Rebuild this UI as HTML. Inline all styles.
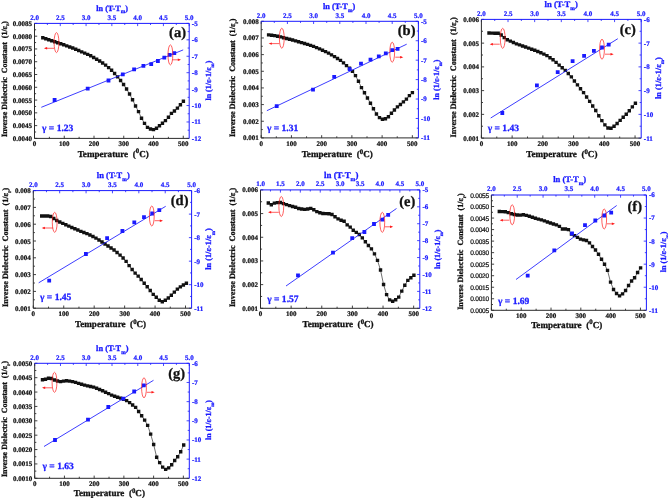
<!DOCTYPE html>
<html><head><meta charset="utf-8"><title>Inverse dielectric constant vs temperature</title>
<style>
html,body{margin:0;padding:0;background:#fff;}
body{width:668px;height:498px;overflow:hidden;}
svg{display:block;filter:blur(0.35px);text-rendering:geometricPrecision;}
.t{stroke-width:0.22px;stroke-linejoin:round;}
.u{stroke-width:0.3px;stroke-linejoin:round;}
</style></head><body>
<svg width="668" height="498" viewBox="0 0 668 498">
<rect width="668" height="498" fill="#fff"/>
<g id="pa">
<path d="M34.5 138.4V135.7M49.38 138.4V136.8M64.25 138.4V135.7M79.12 138.4V136.8M94 138.4V135.7M108.88 138.4V136.8M123.75 138.4V135.7M138.62 138.4V136.8M153.5 138.4V135.7M168.38 138.4V136.8M183.25 138.4V135.7M34.5 138.4H37.2M34.5 132.01H36.1M34.5 125.62H37.2M34.5 119.23H36.1M34.5 112.84H37.2M34.5 106.46H36.1M34.5 100.07H37.2M34.5 93.68H36.1M34.5 87.29H37.2M34.5 80.9H36.1M34.5 74.51H37.2M34.5 68.12H36.1M34.5 61.73H37.2M34.5 55.34H36.1M34.5 48.96H37.2M34.5 42.57H36.1M34.5 36.18H37.2M34.5 29.79H36.1M34.5 23.4H37.2" stroke="#111" stroke-width="0.8" fill="none"/>
<path d="M34.5 23.4V26.1M47.39 23.4V25M60.28 23.4V26.1M73.17 23.4V25M86.07 23.4V26.1M98.96 23.4V25M111.85 23.4V26.1M124.74 23.4V25M137.63 23.4V26.1M150.52 23.4V25M163.42 23.4V26.1M176.31 23.4V25M189.2 23.4V26.1M189.2 138.4H186.5M189.2 130.19H187.6M189.2 121.97H186.5M189.2 113.76H187.6M189.2 105.54H186.5M189.2 97.33H187.6M189.2 89.11H186.5M189.2 80.9H187.6M189.2 72.69H186.5M189.2 64.47H187.6M189.2 56.26H186.5M189.2 48.04H187.6M189.2 39.83H186.5M189.2 31.61H187.6M189.2 23.4H186.5" stroke="#1a1aff" stroke-width="0.8" fill="none"/>
<path d="M34.5 23.4V138.4H189.2" stroke="#2b2b2b" stroke-width="1" fill="none"/>
<path d="M34.5 23.4H189.2V138.4" stroke="#1a1aff" stroke-width="1" fill="none"/>
<g font-family='"Liberation Serif", serif' font-weight="bold" font-size="7.0" text-anchor="middle" fill="#111" stroke="#111" class="t">
<text x="34.5" y="146">0</text>
<text x="64.25" y="146">100</text>
<text x="94" y="146">200</text>
<text x="123.75" y="146">300</text>
<text x="153.5" y="146">400</text>
<text x="183.25" y="146">500</text>
</g>
<g font-family='"Liberation Serif", serif' font-weight="bold" font-size="7.0" text-anchor="end" fill="#111" stroke="#111" class="t">
<text x="32" y="140.9">0.0040</text>
<text x="32" y="128.12">0.0045</text>
<text x="32" y="115.34">0.0050</text>
<text x="32" y="102.57">0.0055</text>
<text x="32" y="89.79">0.0060</text>
<text x="32" y="77.01">0.0065</text>
<text x="32" y="64.23">0.0070</text>
<text x="32" y="51.46">0.0075</text>
<text x="32" y="38.68">0.0080</text>
<text x="32" y="25.9">0.0085</text>
</g>
<g font-family='"Liberation Serif", serif' font-weight="bold" font-size="7.0" text-anchor="middle" fill="#1a1aff" stroke="#1a1aff" class="t">
<text x="34.5" y="19.8">2.0</text>
<text x="60.28" y="19.8">2.5</text>
<text x="86.07" y="19.8">3.0</text>
<text x="111.85" y="19.8">3.5</text>
<text x="137.63" y="19.8">4.0</text>
<text x="163.42" y="19.8">4.5</text>
<text x="189.2" y="19.8">5.0</text>
</g>
<g font-family='"Liberation Serif", serif' font-weight="bold" font-size="7.0" text-anchor="start" fill="#1a1aff" stroke="#1a1aff" class="t">
<text x="191.8" y="140.8">-12</text>
<text x="191.8" y="124.37">-11</text>
<text x="191.8" y="107.94">-10</text>
<text x="191.8" y="91.51">-9</text>
<text x="191.8" y="75.09">-8</text>
<text x="191.8" y="58.66">-7</text>
<text x="191.8" y="42.23">-6</text>
<text x="191.8" y="25.8">-5</text>
</g>
<text x="113.2" y="156.8" font-family='"Liberation Serif", serif' font-weight="bold" font-size="9.1" text-anchor="middle" fill="#111" stroke="#111" class="u">Temperature&#160;&#160;(<tspan font-size="6.8" dy="-3.4">0</tspan><tspan dy="3.4">C)</tspan></text>
<text x="112.1" y="10.5" font-family='"Liberation Serif", serif' font-weight="bold" font-size="8.2" text-anchor="middle" fill="#1a1aff" stroke="#1a1aff" class="u">ln (T-T<tspan font-size="5.33" dy="2.95">m</tspan><tspan dy="-2.95">)</tspan></text>
<text transform="translate(6.63 79) rotate(-90)" font-family='"Liberation Serif", serif' font-weight="bold" font-size="7.96" text-anchor="middle" fill="#111" stroke="#111" class="u">Inverse Dielectric&#160; Constant&#160; (1/&#949;<tspan font-size="5.17" dy="2.39">r</tspan><tspan dy="-2.39">)</tspan></text>
<text transform="translate(210.52 80.6) rotate(-90)" font-family='"Liberation Serif", serif' font-weight="bold" font-size="7.94" text-anchor="middle" fill="#1a1aff" stroke="#1a1aff" class="u">ln (1/&#949;-1/&#949;<tspan font-size="4.92" dy="3.18">m</tspan><tspan dy="-3.18">)</tspan></text>
<polyline points="42.8,37.8 45.79,38.8 48.78,39.79 51.77,40.79 54.77,41.79 57.76,42.79 60.75,43.8 63.74,44.81 66.73,45.87 69.72,46.94 72.71,48.01 75.71,49.29 78.7,50.57 81.69,51.85 84.68,53.09 87.67,54.34 90.66,55.77 93.66,57.47 96.65,59.18 99.64,61.06 102.63,63.05 105.62,65.14 108.61,67.67 111.6,70.2 114.6,73.44 117.59,76.91 120.58,80.47 123.57,84.52 126.56,88.94 129.55,94.02 132.54,99.69 135.54,105.97 138.53,111.67 141.52,118.22 144.51,123.35 147.5,127.4 150.49,129.04 153.49,129.6 156.48,128.24 159.47,125.73 162.46,123.22 165.45,120.64 168.44,117.27 171.43,113.37 174.43,110.96 177.42,108.08 180.41,104.8 183.4,101.3" stroke="#111" stroke-width="0.6" fill="none"/>
<path d="M41.1 36.1h3.4v3.4h-3.4zM44.09 37.1h3.4v3.4h-3.4zM47.08 38.09h3.4v3.4h-3.4zM50.07 39.09h3.4v3.4h-3.4zM53.07 40.09h3.4v3.4h-3.4zM56.06 41.09h3.4v3.4h-3.4zM59.05 42.1h3.4v3.4h-3.4zM62.04 43.11h3.4v3.4h-3.4zM65.03 44.17h3.4v3.4h-3.4zM68.02 45.24h3.4v3.4h-3.4zM71.01 46.31h3.4v3.4h-3.4zM74.01 47.59h3.4v3.4h-3.4zM77 48.87h3.4v3.4h-3.4zM79.99 50.15h3.4v3.4h-3.4zM82.98 51.39h3.4v3.4h-3.4zM85.97 52.64h3.4v3.4h-3.4zM88.96 54.07h3.4v3.4h-3.4zM91.96 55.77h3.4v3.4h-3.4zM94.95 57.48h3.4v3.4h-3.4zM97.94 59.36h3.4v3.4h-3.4zM100.93 61.35h3.4v3.4h-3.4zM103.92 63.44h3.4v3.4h-3.4zM106.91 65.97h3.4v3.4h-3.4zM109.9 68.5h3.4v3.4h-3.4zM112.9 71.74h3.4v3.4h-3.4zM115.89 75.21h3.4v3.4h-3.4zM118.88 78.77h3.4v3.4h-3.4zM121.87 82.82h3.4v3.4h-3.4zM124.86 87.24h3.4v3.4h-3.4zM127.85 92.32h3.4v3.4h-3.4zM130.84 97.99h3.4v3.4h-3.4zM133.84 104.27h3.4v3.4h-3.4zM136.83 109.97h3.4v3.4h-3.4zM139.82 116.52h3.4v3.4h-3.4zM142.81 121.65h3.4v3.4h-3.4zM145.8 125.7h3.4v3.4h-3.4zM148.79 127.34h3.4v3.4h-3.4zM151.79 127.9h3.4v3.4h-3.4zM154.78 126.54h3.4v3.4h-3.4zM157.77 124.03h3.4v3.4h-3.4zM160.76 121.52h3.4v3.4h-3.4zM163.75 118.94h3.4v3.4h-3.4zM166.74 115.57h3.4v3.4h-3.4zM169.73 111.67h3.4v3.4h-3.4zM172.73 109.26h3.4v3.4h-3.4zM175.72 106.38h3.4v3.4h-3.4zM178.71 103.1h3.4v3.4h-3.4zM181.7 99.6h3.4v3.4h-3.4z" fill="#111"/>
<path d="M41.3 107.3L183.2 49.9" stroke="#1a1aff" stroke-width="0.85"/>
<path d="M52.7 98.1h3.8v3.8h-3.8zM85.8 86.8h3.8v3.8h-3.8zM106.6 78.6h3.8v3.8h-3.8zM120.9 72.4h3.8v3.8h-3.8zM132.2 67.5h3.8v3.8h-3.8zM141.5 64h3.8v3.8h-3.8zM149.3 62.2h3.8v3.8h-3.8zM156 59.1h3.8v3.8h-3.8zM162.4 55.8h3.8v3.8h-3.8zM167.8 53h3.8v3.8h-3.8zM172.4 51.2h3.8v3.8h-3.8z" fill="#1a1aff"/>
<ellipse cx="56.5" cy="42.6" rx="2.4" ry="10" stroke="#ff1a1a" stroke-width="0.7" fill="none"/>
<path d="M54 48.3H45.4" stroke="#ff1a1a" stroke-width="0.7"/>
<path d="M43.9 48.3L47.1 47.1L47.1 49.5z" fill="#ff1a1a"/>
<ellipse cx="170.4" cy="54.9" rx="2.4" ry="10" stroke="#ff1a1a" stroke-width="0.7" fill="none"/>
<path d="M172.5 59.8H179.5" stroke="#ff1a1a" stroke-width="0.7"/>
<path d="M181 59.8L177.8 58.6L177.8 61z" fill="#ff1a1a"/>
<text x="186" y="37" font-family='"Liberation Serif", serif' font-weight="bold" font-size="14.5" text-anchor="end" fill="#111" stroke="#111" class="u">(a)</text>
<text x="42" y="131.2" font-family='"Liberation Serif", serif' font-weight="bold" font-size="9.55" fill="#1a1aff" stroke="#1a1aff" class="u">&#947; = 1.23</text>
</g>
<g id="pb">
<path d="M261.2 137.9V135.2M276.32 137.9V136.3M291.43 137.9V135.2M306.55 137.9V136.3M321.66 137.9V135.2M336.78 137.9V136.3M351.89 137.9V135.2M367.01 137.9V136.3M382.12 137.9V135.2M397.24 137.9V136.3M412.35 137.9V135.2M261.2 137.9H263.9M261.2 129.57H262.8M261.2 121.24H263.9M261.2 112.91H262.8M261.2 104.59H263.9M261.2 96.26H262.8M261.2 87.93H263.9M261.2 79.6H262.8M261.2 71.27H263.9M261.2 62.94H262.8M261.2 54.61H263.9M261.2 46.29H262.8M261.2 37.96H263.9M261.2 29.63H262.8M261.2 21.3H263.9" stroke="#111" stroke-width="0.8" fill="none"/>
<path d="M261.2 21.3V24M274.3 21.3V22.9M287.4 21.3V24M300.5 21.3V22.9M313.6 21.3V24M326.7 21.3V22.9M339.8 21.3V24M352.9 21.3V22.9M366 21.3V24M379.1 21.3V22.9M392.2 21.3V24M405.3 21.3V22.9M418.4 21.3V24M418.4 137.9H415.7M418.4 128.18H416.8M418.4 118.47H415.7M418.4 108.75H416.8M418.4 99.03H415.7M418.4 89.32H416.8M418.4 79.6H415.7M418.4 69.88H416.8M418.4 60.17H415.7M418.4 50.45H416.8M418.4 40.73H415.7M418.4 31.02H416.8M418.4 21.3H415.7" stroke="#1a1aff" stroke-width="0.8" fill="none"/>
<path d="M261.2 21.3V137.9H418.4" stroke="#2b2b2b" stroke-width="1" fill="none"/>
<path d="M261.2 21.3H418.4V137.9" stroke="#1a1aff" stroke-width="1" fill="none"/>
<g font-family='"Liberation Serif", serif' font-weight="bold" font-size="7.0" text-anchor="middle" fill="#111" stroke="#111" class="t">
<text x="261.2" y="145.5">0</text>
<text x="291.43" y="145.5">100</text>
<text x="321.66" y="145.5">200</text>
<text x="351.89" y="145.5">300</text>
<text x="382.12" y="145.5">400</text>
<text x="412.35" y="145.5">500</text>
</g>
<g font-family='"Liberation Serif", serif' font-weight="bold" font-size="7.0" text-anchor="end" fill="#111" stroke="#111" class="t">
<text x="258.7" y="140.4">0.001</text>
<text x="258.7" y="123.74">0.002</text>
<text x="258.7" y="107.09">0.003</text>
<text x="258.7" y="90.43">0.004</text>
<text x="258.7" y="73.77">0.005</text>
<text x="258.7" y="57.11">0.006</text>
<text x="258.7" y="40.46">0.007</text>
<text x="258.7" y="23.8">0.008</text>
</g>
<g font-family='"Liberation Serif", serif' font-weight="bold" font-size="7.0" text-anchor="middle" fill="#1a1aff" stroke="#1a1aff" class="t">
<text x="261.2" y="17.7">2.0</text>
<text x="287.4" y="17.7">2.5</text>
<text x="313.6" y="17.7">3.0</text>
<text x="339.8" y="17.7">3.5</text>
<text x="366" y="17.7">4.0</text>
<text x="392.2" y="17.7">4.5</text>
<text x="418.4" y="17.7">5.0</text>
</g>
<g font-family='"Liberation Serif", serif' font-weight="bold" font-size="7.0" text-anchor="start" fill="#1a1aff" stroke="#1a1aff" class="t">
<text x="421" y="140.3">-11</text>
<text x="421" y="120.87">-10</text>
<text x="421" y="101.43">-9</text>
<text x="421" y="82">-8</text>
<text x="421" y="62.57">-7</text>
<text x="421" y="43.13">-6</text>
<text x="421" y="23.7">-5</text>
</g>
<text x="337.2" y="157.2" font-family='"Liberation Serif", serif' font-weight="bold" font-size="9.1" text-anchor="middle" fill="#111" stroke="#111" class="u">Temperature&#160;&#160;(<tspan font-size="6.8" dy="-3.4">0</tspan><tspan dy="3.4">C)</tspan></text>
<text x="339.1" y="9.4" font-family='"Liberation Serif", serif' font-weight="bold" font-size="8.3" text-anchor="middle" fill="#1a1aff" stroke="#1a1aff" class="u">ln (T-T<tspan font-size="5.4" dy="2.99">m</tspan><tspan dy="-2.99">)</tspan></text>
<text transform="translate(235.08 77.8) rotate(-90)" font-family='"Liberation Serif", serif' font-weight="bold" font-size="8.13" text-anchor="middle" fill="#111" stroke="#111" class="u">Inverse Dielectric&#160; Constant&#160; (1/&#949;<tspan font-size="5.28" dy="2.44">r</tspan><tspan dy="-2.44">)</tspan></text>
<text transform="translate(438.84 79.6) rotate(-90)" font-family='"Liberation Serif", serif' font-weight="bold" font-size="8" text-anchor="middle" fill="#1a1aff" stroke="#1a1aff" class="u">ln (1/&#949;-1/&#949;<tspan font-size="4.96" dy="3.2">m</tspan><tspan dy="-3.2">)</tspan></text>
<polyline points="268.6,34.9 271.6,35.21 274.59,35.64 277.59,36.24 280.58,36.92 283.58,37.71 286.58,38.5 289.57,39.26 292.57,40.02 295.56,40.89 298.56,41.77 301.55,42.64 304.55,43.51 307.55,44.42 310.54,45.41 313.54,46.41 316.53,47.61 319.53,48.86 322.52,50.2 325.52,51.65 328.52,53.11 331.51,54.86 334.51,56.6 337.5,58.45 340.5,60.35 343.5,62.84 346.49,65.62 349.49,68.19 352.48,71.4 355.48,75.62 358.48,81.28 361.47,87.6 364.47,92.76 367.46,97.95 370.46,103.21 373.45,108.73 376.45,114.02 379.45,117.61 382.44,119.32 385.44,118.74 388.43,116.69 391.43,113.24 394.42,110.05 397.42,106.83 400.42,104.5 403.41,101.89 406.41,99.08 409.4,95.61 412.4,92.6" stroke="#111" stroke-width="0.6" fill="none"/>
<path d="M266.9 33.2h3.4v3.4h-3.4zM269.9 33.51h3.4v3.4h-3.4zM272.89 33.94h3.4v3.4h-3.4zM275.89 34.54h3.4v3.4h-3.4zM278.88 35.22h3.4v3.4h-3.4zM281.88 36.01h3.4v3.4h-3.4zM284.88 36.8h3.4v3.4h-3.4zM287.87 37.56h3.4v3.4h-3.4zM290.87 38.32h3.4v3.4h-3.4zM293.86 39.19h3.4v3.4h-3.4zM296.86 40.07h3.4v3.4h-3.4zM299.85 40.94h3.4v3.4h-3.4zM302.85 41.81h3.4v3.4h-3.4zM305.85 42.72h3.4v3.4h-3.4zM308.84 43.71h3.4v3.4h-3.4zM311.84 44.71h3.4v3.4h-3.4zM314.83 45.91h3.4v3.4h-3.4zM317.83 47.16h3.4v3.4h-3.4zM320.82 48.5h3.4v3.4h-3.4zM323.82 49.95h3.4v3.4h-3.4zM326.82 51.41h3.4v3.4h-3.4zM329.81 53.16h3.4v3.4h-3.4zM332.81 54.9h3.4v3.4h-3.4zM335.8 56.75h3.4v3.4h-3.4zM338.8 58.65h3.4v3.4h-3.4zM341.8 61.14h3.4v3.4h-3.4zM344.79 63.92h3.4v3.4h-3.4zM347.79 66.49h3.4v3.4h-3.4zM350.78 69.7h3.4v3.4h-3.4zM353.78 73.92h3.4v3.4h-3.4zM356.78 79.58h3.4v3.4h-3.4zM359.77 85.9h3.4v3.4h-3.4zM362.77 91.06h3.4v3.4h-3.4zM365.76 96.25h3.4v3.4h-3.4zM368.76 101.51h3.4v3.4h-3.4zM371.75 107.03h3.4v3.4h-3.4zM374.75 112.32h3.4v3.4h-3.4zM377.75 115.91h3.4v3.4h-3.4zM380.74 117.62h3.4v3.4h-3.4zM383.74 117.04h3.4v3.4h-3.4zM386.73 114.99h3.4v3.4h-3.4zM389.73 111.54h3.4v3.4h-3.4zM392.72 108.35h3.4v3.4h-3.4zM395.72 105.13h3.4v3.4h-3.4zM398.72 102.8h3.4v3.4h-3.4zM401.71 100.19h3.4v3.4h-3.4zM404.71 97.38h3.4v3.4h-3.4zM407.7 93.91h3.4v3.4h-3.4zM410.7 90.9h3.4v3.4h-3.4z" fill="#111"/>
<path d="M266.9 110.7L406.7 44.2" stroke="#1a1aff" stroke-width="0.85"/>
<path d="M274.8 104.2h3.8v3.8h-3.8zM311.1 87.8h3.8v3.8h-3.8zM332.3 75h3.8v3.8h-3.8zM347.8 67.3h3.8v3.8h-3.8zM359.1 61.8h3.8v3.8h-3.8zM368.6 57.8h3.8v3.8h-3.8zM376.9 54.5h3.8v3.8h-3.8zM383.9 51.4h3.8v3.8h-3.8zM390.3 48.3h3.8v3.8h-3.8zM395.7 46.9h3.8v3.8h-3.8z" fill="#1a1aff"/>
<ellipse cx="281.8" cy="38.2" rx="2.4" ry="10" stroke="#ff1a1a" stroke-width="0.7" fill="none"/>
<path d="M279.4 43.6H270.1" stroke="#ff1a1a" stroke-width="0.7"/>
<path d="M268.6 43.6L271.8 42.4L271.8 44.8z" fill="#ff1a1a"/>
<ellipse cx="392.2" cy="52.2" rx="2.4" ry="10" stroke="#ff1a1a" stroke-width="0.7" fill="none"/>
<path d="M395.3 57.2H401.8" stroke="#ff1a1a" stroke-width="0.7"/>
<path d="M403.3 57.2L400.1 56L400.1 58.4z" fill="#ff1a1a"/>
<text x="415.5" y="35.3" font-family='"Liberation Serif", serif' font-weight="bold" font-size="14.5" text-anchor="end" fill="#111" stroke="#111" class="u">(b)</text>
<text x="266.9" y="131.3" font-family='"Liberation Serif", serif' font-weight="bold" font-size="9.55" fill="#1a1aff" stroke="#1a1aff" class="u">&#947; = 1.31</text>
</g>
<g id="pc">
<path d="M481.4 138.1V135.4M496.77 138.1V136.5M512.13 138.1V135.4M527.5 138.1V136.5M542.86 138.1V135.4M558.23 138.1V136.5M573.59 138.1V135.4M588.96 138.1V136.5M604.32 138.1V135.4M619.69 138.1V136.5M635.05 138.1V135.4M481.4 138.1H484.1M481.4 126.23H483M481.4 114.36H484.1M481.4 102.49H483M481.4 90.62H484.1M481.4 78.75H483M481.4 66.88H484.1M481.4 55.01H483M481.4 43.14H484.1M481.4 31.27H483M481.4 19.4H484.1" stroke="#111" stroke-width="0.8" fill="none"/>
<path d="M481.4 19.4V22.1M494.72 19.4V21M508.03 19.4V22.1M521.35 19.4V21M534.67 19.4V22.1M547.98 19.4V21M561.3 19.4V22.1M574.62 19.4V21M587.93 19.4V22.1M601.25 19.4V21M614.57 19.4V22.1M627.88 19.4V21M641.2 19.4V22.1M641.2 138.1H638.5M641.2 126.23H639.6M641.2 114.36H638.5M641.2 102.49H639.6M641.2 90.62H638.5M641.2 78.75H639.6M641.2 66.88H638.5M641.2 55.01H639.6M641.2 43.14H638.5M641.2 31.27H639.6M641.2 19.4H638.5" stroke="#1a1aff" stroke-width="0.8" fill="none"/>
<path d="M481.4 19.4V138.1H641.2" stroke="#2b2b2b" stroke-width="1" fill="none"/>
<path d="M481.4 19.4H641.2V138.1" stroke="#1a1aff" stroke-width="1" fill="none"/>
<g font-family='"Liberation Serif", serif' font-weight="bold" font-size="7.0" text-anchor="middle" fill="#111" stroke="#111" class="t">
<text x="481.4" y="145.7">0</text>
<text x="512.13" y="145.7">100</text>
<text x="542.86" y="145.7">200</text>
<text x="573.59" y="145.7">300</text>
<text x="604.32" y="145.7">400</text>
<text x="635.05" y="145.7">500</text>
</g>
<g font-family='"Liberation Serif", serif' font-weight="bold" font-size="7.0" text-anchor="end" fill="#111" stroke="#111" class="t">
<text x="478.9" y="140.6">0.001</text>
<text x="478.9" y="116.86">0.002</text>
<text x="478.9" y="93.12">0.003</text>
<text x="478.9" y="69.38">0.004</text>
<text x="478.9" y="45.64">0.005</text>
<text x="478.9" y="21.9">0.006</text>
</g>
<g font-family='"Liberation Serif", serif' font-weight="bold" font-size="7.0" text-anchor="middle" fill="#1a1aff" stroke="#1a1aff" class="t">
<text x="481.4" y="15.8">2.0</text>
<text x="508.03" y="15.8">2.5</text>
<text x="534.67" y="15.8">3.0</text>
<text x="561.3" y="15.8">3.5</text>
<text x="587.93" y="15.8">4.0</text>
<text x="614.57" y="15.8">4.5</text>
<text x="641.2" y="15.8">5.0</text>
</g>
<g font-family='"Liberation Serif", serif' font-weight="bold" font-size="7.0" text-anchor="start" fill="#1a1aff" stroke="#1a1aff" class="t">
<text x="643.8" y="140.5">-11</text>
<text x="643.8" y="116.76">-10</text>
<text x="643.8" y="93.02">-9</text>
<text x="643.8" y="69.28">-8</text>
<text x="643.8" y="45.54">-7</text>
<text x="643.8" y="21.8">-6</text>
</g>
<text x="561.9" y="157.2" font-family='"Liberation Serif", serif' font-weight="bold" font-size="9.1" text-anchor="middle" fill="#111" stroke="#111" class="u">Temperature&#160;&#160;(<tspan font-size="6.8" dy="-3.4">0</tspan><tspan dy="3.4">C)</tspan></text>
<text x="561.2" y="6.7" font-family='"Liberation Serif", serif' font-weight="bold" font-size="8.6" text-anchor="middle" fill="#1a1aff" stroke="#1a1aff" class="u">ln (T-T<tspan font-size="5.59" dy="3.1">m</tspan><tspan dy="-3.1">)</tspan></text>
<text transform="translate(455.73 77.4) rotate(-90)" font-family='"Liberation Serif", serif' font-weight="bold" font-size="8.26" text-anchor="middle" fill="#111" stroke="#111" class="u">Inverse Dielectric&#160; Constant&#160; (1/&#949;<tspan font-size="5.37" dy="2.48">r</tspan><tspan dy="-2.48">)</tspan></text>
<text transform="translate(660.75 78.1) rotate(-90)" font-family='"Liberation Serif", serif' font-weight="bold" font-size="8.34" text-anchor="middle" fill="#1a1aff" stroke="#1a1aff" class="u">ln (1/&#949;-1/&#949;<tspan font-size="5.17" dy="3.34">m</tspan><tspan dy="-3.34">)</tspan></text>
<polyline points="489,33 492.05,33.09 495.1,33.18 498.15,33.27 501.2,34.97 504.25,37.66 507.3,39.79 510.35,41.16 513.4,42.53 516.45,43.86 519.5,44.91 522.55,45.97 525.6,47.02 528.65,48.08 531.7,49.18 534.75,50.3 537.8,51.43 540.85,52.75 543.9,54.08 546.95,55.65 550,57.72 553.05,59.79 556.1,62.33 559.15,65.13 562.2,67.79 565.25,70.38 568.3,73.48 571.35,76.84 574.4,81.01 577.45,84.91 580.5,88.72 583.55,92.6 586.6,96.93 589.65,101.37 592.7,105.95 595.75,110.52 598.8,115.75 601.85,120.65 604.9,124.9 607.95,127.95 611,128.3 614.05,126.24 617.1,123.46 620.15,120.35 623.2,117.3 626.25,114.25 629.3,110.7 632.35,106.92 635.4,103.2" stroke="#111" stroke-width="0.6" fill="none"/>
<path d="M487.3 31.3h3.4v3.4h-3.4zM490.35 31.39h3.4v3.4h-3.4zM493.4 31.48h3.4v3.4h-3.4zM496.45 31.57h3.4v3.4h-3.4zM499.5 33.27h3.4v3.4h-3.4zM502.55 35.96h3.4v3.4h-3.4zM505.6 38.09h3.4v3.4h-3.4zM508.65 39.46h3.4v3.4h-3.4zM511.7 40.83h3.4v3.4h-3.4zM514.75 42.16h3.4v3.4h-3.4zM517.8 43.21h3.4v3.4h-3.4zM520.85 44.27h3.4v3.4h-3.4zM523.9 45.32h3.4v3.4h-3.4zM526.95 46.38h3.4v3.4h-3.4zM530 47.48h3.4v3.4h-3.4zM533.05 48.6h3.4v3.4h-3.4zM536.1 49.73h3.4v3.4h-3.4zM539.15 51.05h3.4v3.4h-3.4zM542.2 52.38h3.4v3.4h-3.4zM545.25 53.95h3.4v3.4h-3.4zM548.3 56.02h3.4v3.4h-3.4zM551.35 58.09h3.4v3.4h-3.4zM554.4 60.63h3.4v3.4h-3.4zM557.45 63.43h3.4v3.4h-3.4zM560.5 66.09h3.4v3.4h-3.4zM563.55 68.68h3.4v3.4h-3.4zM566.6 71.78h3.4v3.4h-3.4zM569.65 75.14h3.4v3.4h-3.4zM572.7 79.31h3.4v3.4h-3.4zM575.75 83.21h3.4v3.4h-3.4zM578.8 87.02h3.4v3.4h-3.4zM581.85 90.9h3.4v3.4h-3.4zM584.9 95.23h3.4v3.4h-3.4zM587.95 99.67h3.4v3.4h-3.4zM591 104.25h3.4v3.4h-3.4zM594.05 108.82h3.4v3.4h-3.4zM597.1 114.05h3.4v3.4h-3.4zM600.15 118.95h3.4v3.4h-3.4zM603.2 123.2h3.4v3.4h-3.4zM606.25 126.25h3.4v3.4h-3.4zM609.3 126.6h3.4v3.4h-3.4zM612.35 124.54h3.4v3.4h-3.4zM615.4 121.76h3.4v3.4h-3.4zM618.45 118.65h3.4v3.4h-3.4zM621.5 115.6h3.4v3.4h-3.4zM624.55 112.55h3.4v3.4h-3.4zM627.6 109h3.4v3.4h-3.4zM630.65 105.22h3.4v3.4h-3.4zM633.7 101.5h3.4v3.4h-3.4z" fill="#111"/>
<path d="M490.7 118L617.8 38.7" stroke="#1a1aff" stroke-width="0.85"/>
<path d="M500.4 111.1h3.8v3.8h-3.8zM535 83.4h3.8v3.8h-3.8zM555.8 70.2h3.8v3.8h-3.8zM570.7 59.2h3.8v3.8h-3.8zM582.2 54h3.8v3.8h-3.8zM592 49h3.8v3.8h-3.8zM600.1 45.6h3.8v3.8h-3.8zM606.8 42.8h3.8v3.8h-3.8z" fill="#1a1aff"/>
<ellipse cx="502.7" cy="38.3" rx="2.4" ry="10" stroke="#ff1a1a" stroke-width="0.7" fill="none"/>
<path d="M499.7 44.2H491.2" stroke="#ff1a1a" stroke-width="0.7"/>
<path d="M489.7 44.2L492.9 43L492.9 45.4z" fill="#ff1a1a"/>
<ellipse cx="602" cy="49.2" rx="2.4" ry="10" stroke="#ff1a1a" stroke-width="0.7" fill="none"/>
<path d="M605 54.2H612.2" stroke="#ff1a1a" stroke-width="0.7"/>
<path d="M613.7 54.2L610.5 53L610.5 55.4z" fill="#ff1a1a"/>
<text x="635.8" y="33.9" font-family='"Liberation Serif", serif' font-weight="bold" font-size="14.5" text-anchor="end" fill="#111" stroke="#111" class="u">(c)</text>
<text x="487.7" y="130.5" font-family='"Liberation Serif", serif' font-weight="bold" font-size="9.55" fill="#1a1aff" stroke="#1a1aff" class="u">&#947; = 1.43</text>
</g>
<g id="pd">
<path d="M33.3 308.2V305.5M48.52 308.2V306.6M63.74 308.2V305.5M78.96 308.2V306.6M94.18 308.2V305.5M109.41 308.2V306.6M124.63 308.2V305.5M139.85 308.2V306.6M155.07 308.2V305.5M170.29 308.2V306.6M185.51 308.2V305.5M33.3 308.2H36M33.3 299.8H34.9M33.3 291.4H36M33.3 283H34.9M33.3 274.6H36M33.3 266.2H34.9M33.3 257.8H36M33.3 249.4H34.9M33.3 241H36M33.3 232.6H34.9M33.3 224.2H36M33.3 215.8H34.9M33.3 207.4H36M33.3 199H34.9M33.3 190.6H36" stroke="#111" stroke-width="0.8" fill="none"/>
<path d="M33.3 190.6V193.3M46.49 190.6V192.2M59.68 190.6V193.3M72.88 190.6V192.2M86.07 190.6V193.3M99.26 190.6V192.2M112.45 190.6V193.3M125.64 190.6V192.2M138.83 190.6V193.3M152.03 190.6V192.2M165.22 190.6V193.3M178.41 190.6V192.2M191.6 190.6V193.3M191.6 308.2H188.9M191.6 296.44H190M191.6 284.68H188.9M191.6 272.92H190M191.6 261.16H188.9M191.6 249.4H190M191.6 237.64H188.9M191.6 225.88H190M191.6 214.12H188.9M191.6 202.36H190M191.6 190.6H188.9" stroke="#1a1aff" stroke-width="0.8" fill="none"/>
<path d="M33.3 190.6V308.2H191.6" stroke="#2b2b2b" stroke-width="1" fill="none"/>
<path d="M33.3 190.6H191.6V308.2" stroke="#1a1aff" stroke-width="1" fill="none"/>
<g font-family='"Liberation Serif", serif' font-weight="bold" font-size="7.0" text-anchor="middle" fill="#111" stroke="#111" class="t">
<text x="33.3" y="315.8">0</text>
<text x="63.74" y="315.8">100</text>
<text x="94.18" y="315.8">200</text>
<text x="124.63" y="315.8">300</text>
<text x="155.07" y="315.8">400</text>
<text x="185.51" y="315.8">500</text>
</g>
<g font-family='"Liberation Serif", serif' font-weight="bold" font-size="7.0" text-anchor="end" fill="#111" stroke="#111" class="t">
<text x="30.8" y="310.7">0.001</text>
<text x="30.8" y="293.9">0.002</text>
<text x="30.8" y="277.1">0.003</text>
<text x="30.8" y="260.3">0.004</text>
<text x="30.8" y="243.5">0.005</text>
<text x="30.8" y="226.7">0.006</text>
<text x="30.8" y="209.9">0.007</text>
<text x="30.8" y="193.1">0.008</text>
</g>
<g font-family='"Liberation Serif", serif' font-weight="bold" font-size="7.0" text-anchor="middle" fill="#1a1aff" stroke="#1a1aff" class="t">
<text x="33.3" y="187">2.0</text>
<text x="59.68" y="187">2.5</text>
<text x="86.07" y="187">3.0</text>
<text x="112.45" y="187">3.5</text>
<text x="138.83" y="187">4.0</text>
<text x="165.22" y="187">4.5</text>
<text x="191.6" y="187">5.0</text>
</g>
<g font-family='"Liberation Serif", serif' font-weight="bold" font-size="7.0" text-anchor="start" fill="#1a1aff" stroke="#1a1aff" class="t">
<text x="194.2" y="310.6">-11</text>
<text x="194.2" y="287.08">-10</text>
<text x="194.2" y="263.56">-9</text>
<text x="194.2" y="240.04">-8</text>
<text x="194.2" y="216.52">-7</text>
<text x="194.2" y="193">-6</text>
</g>
<text x="110.6" y="326.9" font-family='"Liberation Serif", serif' font-weight="bold" font-size="9.1" text-anchor="middle" fill="#111" stroke="#111" class="u">Temperature&#160;&#160;(<tspan font-size="6.8" dy="-3.4">0</tspan><tspan dy="3.4">C)</tspan></text>
<text x="113.3" y="178.4" font-family='"Liberation Serif", serif' font-weight="bold" font-size="8.5" text-anchor="middle" fill="#1a1aff" stroke="#1a1aff" class="u">ln (T-T<tspan font-size="5.53" dy="3.06">m</tspan><tspan dy="-3.06">)</tspan></text>
<text transform="translate(8.2 247.4) rotate(-90)" font-family='"Liberation Serif", serif' font-weight="bold" font-size="8.19" text-anchor="middle" fill="#111" stroke="#111" class="u">Inverse Dielectric&#160; Constant&#160; (1/&#949;<tspan font-size="5.32" dy="2.46">r</tspan><tspan dy="-2.46">)</tspan></text>
<text transform="translate(211.25 249) rotate(-90)" font-family='"Liberation Serif", serif' font-weight="bold" font-size="8.34" text-anchor="middle" fill="#1a1aff" stroke="#1a1aff" class="u">ln (1/&#949;-1/&#949;<tspan font-size="5.17" dy="3.34">m</tspan><tspan dy="-3.34">)</tspan></text>
<polyline points="41.7,216 44.71,216 47.73,216 50.74,216.5 53.76,218.51 56.77,220.52 59.79,222.04 62.8,223.42 65.82,224.8 68.83,226.13 71.85,227.44 74.86,228.76 77.88,230.07 80.89,231.33 83.9,232.46 86.92,233.59 89.93,234.99 92.95,236.54 95.96,238.08 98.98,240.05 101.99,242.03 105.01,244.04 108.02,246.05 111.04,248.06 114.05,250.07 117.06,252.57 120.08,255.08 123.09,258.04 126.11,261.39 129.12,265.67 132.14,269.52 135.15,273.14 138.17,276.17 141.18,279.43 144.2,283.19 147.21,286.81 150.22,290.51 153.24,294.34 156.25,297.29 159.27,300.27 162.28,301.81 165.3,300.3 168.31,298.04 171.33,295.22 174.34,292.16 177.36,289.16 180.37,286.9 183.39,284.97 186.4,283.2" stroke="#111" stroke-width="0.6" fill="none"/>
<path d="M40 214.3h3.4v3.4h-3.4zM43.01 214.3h3.4v3.4h-3.4zM46.03 214.3h3.4v3.4h-3.4zM49.04 214.8h3.4v3.4h-3.4zM52.06 216.81h3.4v3.4h-3.4zM55.07 218.82h3.4v3.4h-3.4zM58.09 220.34h3.4v3.4h-3.4zM61.1 221.72h3.4v3.4h-3.4zM64.12 223.1h3.4v3.4h-3.4zM67.13 224.43h3.4v3.4h-3.4zM70.15 225.74h3.4v3.4h-3.4zM73.16 227.06h3.4v3.4h-3.4zM76.17 228.37h3.4v3.4h-3.4zM79.19 229.63h3.4v3.4h-3.4zM82.2 230.76h3.4v3.4h-3.4zM85.22 231.89h3.4v3.4h-3.4zM88.23 233.29h3.4v3.4h-3.4zM91.25 234.84h3.4v3.4h-3.4zM94.26 236.38h3.4v3.4h-3.4zM97.28 238.35h3.4v3.4h-3.4zM100.29 240.33h3.4v3.4h-3.4zM103.31 242.34h3.4v3.4h-3.4zM106.32 244.35h3.4v3.4h-3.4zM109.34 246.36h3.4v3.4h-3.4zM112.35 248.37h3.4v3.4h-3.4zM115.36 250.87h3.4v3.4h-3.4zM118.38 253.38h3.4v3.4h-3.4zM121.39 256.34h3.4v3.4h-3.4zM124.41 259.69h3.4v3.4h-3.4zM127.42 263.97h3.4v3.4h-3.4zM130.44 267.82h3.4v3.4h-3.4zM133.45 271.44h3.4v3.4h-3.4zM136.47 274.47h3.4v3.4h-3.4zM139.48 277.73h3.4v3.4h-3.4zM142.5 281.49h3.4v3.4h-3.4zM145.51 285.11h3.4v3.4h-3.4zM148.53 288.81h3.4v3.4h-3.4zM151.54 292.64h3.4v3.4h-3.4zM154.55 295.59h3.4v3.4h-3.4zM157.57 298.57h3.4v3.4h-3.4zM160.58 300.11h3.4v3.4h-3.4zM163.6 298.6h3.4v3.4h-3.4zM166.61 296.34h3.4v3.4h-3.4zM169.63 293.52h3.4v3.4h-3.4zM172.64 290.46h3.4v3.4h-3.4zM175.66 287.46h3.4v3.4h-3.4zM178.67 285.2h3.4v3.4h-3.4zM181.69 283.27h3.4v3.4h-3.4zM184.7 281.5h3.4v3.4h-3.4z" fill="#111"/>
<path d="M38.7 282.8L165.7 206.3" stroke="#1a1aff" stroke-width="0.85"/>
<path d="M47.3 278.8h3.8v3.8h-3.8zM84 252.1h3.8v3.8h-3.8zM105.2 236.2h3.8v3.8h-3.8zM120.5 229.1h3.8v3.8h-3.8zM132.4 220.5h3.8v3.8h-3.8zM142.1 215.3h3.8v3.8h-3.8zM150.3 211.6h3.8v3.8h-3.8zM157.4 208.3h3.8v3.8h-3.8z" fill="#1a1aff"/>
<ellipse cx="54.7" cy="222.3" rx="2.4" ry="10" stroke="#ff1a1a" stroke-width="0.7" fill="none"/>
<path d="M53 228H43.2" stroke="#ff1a1a" stroke-width="0.7"/>
<path d="M41.7 228L44.9 226.8L44.9 229.2z" fill="#ff1a1a"/>
<ellipse cx="151.8" cy="216" rx="2.4" ry="10" stroke="#ff1a1a" stroke-width="0.7" fill="none"/>
<path d="M154.7 220.7H161.5" stroke="#ff1a1a" stroke-width="0.7"/>
<path d="M163 220.7L159.8 219.5L159.8 221.9z" fill="#ff1a1a"/>
<text x="188.5" y="205.3" font-family='"Liberation Serif", serif' font-weight="bold" font-size="14.5" text-anchor="end" fill="#111" stroke="#111" class="u">(d)</text>
<text x="40" y="300.3" font-family='"Liberation Serif", serif' font-weight="bold" font-size="9.55" fill="#1a1aff" stroke="#1a1aff" class="u">&#947; = 1.45</text>
</g>
<g id="pe">
<path d="M260.5 308.3V305.6M275.82 308.3V306.7M291.13 308.3V305.6M306.45 308.3V306.7M321.77 308.3V305.6M337.09 308.3V306.7M352.4 308.3V305.6M367.72 308.3V306.7M383.04 308.3V305.6M398.36 308.3V306.7M413.67 308.3V305.6M260.5 308.3H263.2M260.5 296.46H262.1M260.5 284.62H263.2M260.5 272.78H262.1M260.5 260.94H263.2M260.5 249.1H262.1M260.5 237.26H263.2M260.5 225.42H262.1M260.5 213.58H263.2M260.5 201.74H262.1M260.5 189.9H263.2" stroke="#111" stroke-width="0.8" fill="none"/>
<path d="M260.5 189.9V192.6M270.46 189.9V191.5M280.41 189.9V192.6M290.37 189.9V191.5M300.32 189.9V192.6M310.28 189.9V191.5M320.24 189.9V192.6M330.19 189.9V191.5M340.15 189.9V192.6M350.11 189.9V191.5M360.06 189.9V192.6M370.02 189.9V191.5M379.98 189.9V192.6M389.93 189.9V191.5M399.89 189.9V192.6M409.84 189.9V191.5M419.8 189.9V192.6M419.8 308.3H417.1M419.8 299.84H418.2M419.8 291.39H417.1M419.8 282.93H418.2M419.8 274.47H417.1M419.8 266.01H418.2M419.8 257.56H417.1M419.8 249.1H418.2M419.8 240.64H417.1M419.8 232.19H418.2M419.8 223.73H417.1M419.8 215.27H418.2M419.8 206.81H417.1M419.8 198.36H418.2M419.8 189.9H417.1" stroke="#1a1aff" stroke-width="0.8" fill="none"/>
<path d="M260.5 189.9V308.3H419.8" stroke="#2b2b2b" stroke-width="1" fill="none"/>
<path d="M260.5 189.9H419.8V308.3" stroke="#1a1aff" stroke-width="1" fill="none"/>
<g font-family='"Liberation Serif", serif' font-weight="bold" font-size="7.0" text-anchor="middle" fill="#111" stroke="#111" class="t">
<text x="260.5" y="315.9">0</text>
<text x="291.13" y="315.9">100</text>
<text x="321.77" y="315.9">200</text>
<text x="352.4" y="315.9">300</text>
<text x="383.04" y="315.9">400</text>
<text x="413.67" y="315.9">500</text>
</g>
<g font-family='"Liberation Serif", serif' font-weight="bold" font-size="7.0" text-anchor="end" fill="#111" stroke="#111" class="t">
<text x="258" y="310.8">0.001</text>
<text x="258" y="287.12">0.002</text>
<text x="258" y="263.44">0.003</text>
<text x="258" y="239.76">0.004</text>
<text x="258" y="216.08">0.005</text>
<text x="258" y="192.4">0.006</text>
</g>
<g font-family='"Liberation Serif", serif' font-weight="bold" font-size="7.0" text-anchor="middle" fill="#1a1aff" stroke="#1a1aff" class="t">
<text x="260.5" y="186.3">1.0</text>
<text x="280.41" y="186.3">1.5</text>
<text x="300.32" y="186.3">2.0</text>
<text x="320.24" y="186.3">2.5</text>
<text x="340.15" y="186.3">3.0</text>
<text x="360.06" y="186.3">3.5</text>
<text x="379.98" y="186.3">4.0</text>
<text x="399.89" y="186.3">4.5</text>
<text x="419.8" y="186.3">5.0</text>
</g>
<g font-family='"Liberation Serif", serif' font-weight="bold" font-size="7.0" text-anchor="start" fill="#1a1aff" stroke="#1a1aff" class="t">
<text x="422.4" y="310.7">-12</text>
<text x="422.4" y="293.79">-11</text>
<text x="422.4" y="276.87">-10</text>
<text x="422.4" y="259.96">-9</text>
<text x="422.4" y="243.04">-8</text>
<text x="422.4" y="226.13">-7</text>
<text x="422.4" y="209.21">-6</text>
<text x="422.4" y="192.3">-5</text>
</g>
<text x="338.1" y="326.9" font-family='"Liberation Serif", serif' font-weight="bold" font-size="9.1" text-anchor="middle" fill="#111" stroke="#111" class="u">Temperature&#160;&#160;(<tspan font-size="6.8" dy="-3.4">0</tspan><tspan dy="3.4">C)</tspan></text>
<text x="341.2" y="177.6" font-family='"Liberation Serif", serif' font-weight="bold" font-size="8.9" text-anchor="middle" fill="#1a1aff" stroke="#1a1aff" class="u">ln (T-T<tspan font-size="5.79" dy="3.2">m</tspan><tspan dy="-3.2">)</tspan></text>
<text transform="translate(235.11 247.4) rotate(-90)" font-family='"Liberation Serif", serif' font-weight="bold" font-size="8.2" text-anchor="middle" fill="#111" stroke="#111" class="u">Inverse Dielectric&#160; Constant&#160; (1/&#949;<tspan font-size="5.33" dy="2.46">r</tspan><tspan dy="-2.46">)</tspan></text>
<text transform="translate(440.11 249.3) rotate(-90)" font-family='"Liberation Serif", serif' font-weight="bold" font-size="7.9" text-anchor="middle" fill="#1a1aff" stroke="#1a1aff" class="u">ln (1/&#949;-1/&#949;<tspan font-size="4.9" dy="3.16">m</tspan><tspan dy="-3.16">)</tspan></text>
<polyline points="268.3,203 271.33,204.68 274.37,203.17 277.4,202.62 280.43,202.55 283.47,203.58 286.5,204.61 289.53,205.64 292.57,206.43 295.6,207.3 298.63,208.44 301.67,209.06 304.7,209.36 307.73,208.98 310.77,208.33 313.8,209.78 316.83,211.6 319.87,212.69 322.9,213.45 325.93,213.6 328.97,213.77 332,214.53 335.03,216.73 338.07,218.88 341.1,220.28 344.13,221.23 347.17,224.88 350.2,227.08 353.23,230.31 356.27,232.36 359.3,234.5 362.33,237.87 365.37,241.75 368.4,245.47 371.43,248.92 374.47,253.91 377.5,260.42 380.53,270.06 383.57,284.55 386.6,294.59 389.63,299.86 392.67,301.21 395.7,299.76 398.73,297.14 401.77,291.17 404.8,285.18 407.83,280.41 410.87,277.7 413.9,275.2" stroke="#111" stroke-width="0.6" fill="none"/>
<path d="M266.6 201.3h3.4v3.4h-3.4zM269.63 202.98h3.4v3.4h-3.4zM272.67 201.47h3.4v3.4h-3.4zM275.7 200.92h3.4v3.4h-3.4zM278.73 200.85h3.4v3.4h-3.4zM281.77 201.88h3.4v3.4h-3.4zM284.8 202.91h3.4v3.4h-3.4zM287.83 203.94h3.4v3.4h-3.4zM290.87 204.73h3.4v3.4h-3.4zM293.9 205.6h3.4v3.4h-3.4zM296.93 206.74h3.4v3.4h-3.4zM299.97 207.36h3.4v3.4h-3.4zM303 207.66h3.4v3.4h-3.4zM306.03 207.28h3.4v3.4h-3.4zM309.07 206.63h3.4v3.4h-3.4zM312.1 208.08h3.4v3.4h-3.4zM315.13 209.9h3.4v3.4h-3.4zM318.17 210.99h3.4v3.4h-3.4zM321.2 211.75h3.4v3.4h-3.4zM324.23 211.9h3.4v3.4h-3.4zM327.27 212.07h3.4v3.4h-3.4zM330.3 212.83h3.4v3.4h-3.4zM333.33 215.03h3.4v3.4h-3.4zM336.37 217.18h3.4v3.4h-3.4zM339.4 218.58h3.4v3.4h-3.4zM342.43 219.53h3.4v3.4h-3.4zM345.47 223.18h3.4v3.4h-3.4zM348.5 225.38h3.4v3.4h-3.4zM351.53 228.61h3.4v3.4h-3.4zM354.57 230.66h3.4v3.4h-3.4zM357.6 232.8h3.4v3.4h-3.4zM360.63 236.17h3.4v3.4h-3.4zM363.67 240.05h3.4v3.4h-3.4zM366.7 243.77h3.4v3.4h-3.4zM369.73 247.22h3.4v3.4h-3.4zM372.77 252.21h3.4v3.4h-3.4zM375.8 258.72h3.4v3.4h-3.4zM378.83 268.36h3.4v3.4h-3.4zM381.87 282.85h3.4v3.4h-3.4zM384.9 292.89h3.4v3.4h-3.4zM387.93 298.16h3.4v3.4h-3.4zM390.97 299.51h3.4v3.4h-3.4zM394 298.06h3.4v3.4h-3.4zM397.03 295.44h3.4v3.4h-3.4zM400.07 289.47h3.4v3.4h-3.4zM403.1 283.48h3.4v3.4h-3.4zM406.13 278.71h3.4v3.4h-3.4zM409.17 276h3.4v3.4h-3.4zM412.2 273.5h3.4v3.4h-3.4z" fill="#111"/>
<path d="M286 286L396.5 208.5" stroke="#1a1aff" stroke-width="0.85"/>
<path d="M296.1 273.4h3.8v3.8h-3.8zM331.1 250.8h3.8v3.8h-3.8zM350.3 236.3h3.8v3.8h-3.8zM362.5 230.1h3.8v3.8h-3.8zM372.1 222.1h3.8v3.8h-3.8zM380.4 217.8h3.8v3.8h-3.8zM386.3 212.9h3.8v3.8h-3.8z" fill="#1a1aff"/>
<ellipse cx="281.3" cy="206.5" rx="2.4" ry="10" stroke="#ff1a1a" stroke-width="0.7" fill="none"/>
<path d="M278.8 212.3H269.5" stroke="#ff1a1a" stroke-width="0.7"/>
<path d="M268 212.3L271.2 211.1L271.2 213.5z" fill="#ff1a1a"/>
<ellipse cx="382.3" cy="222.3" rx="2.4" ry="10" stroke="#ff1a1a" stroke-width="0.7" fill="none"/>
<path d="M384.8 226.8H391.7" stroke="#ff1a1a" stroke-width="0.7"/>
<path d="M393.2 226.8L390 225.6L390 228z" fill="#ff1a1a"/>
<text x="415.3" y="205.5" font-family='"Liberation Serif", serif' font-weight="bold" font-size="14.5" text-anchor="end" fill="#111" stroke="#111" class="u">(e)</text>
<text x="267.2" y="301.5" font-family='"Liberation Serif", serif' font-weight="bold" font-size="9.55" fill="#1a1aff" stroke="#1a1aff" class="u">&#947; = 1.57</text>
</g>
<g id="pf">
<path d="M491.4 310.3V307.6M506.3 310.3V308.7M521.21 310.3V307.6M536.11 310.3V308.7M551.02 310.3V307.6M565.92 310.3V308.7M580.82 310.3V307.6M595.73 310.3V308.7M610.63 310.3V307.6M625.53 310.3V308.7M640.44 310.3V307.6M491.4 310.3H494.1M491.4 304.54H493M491.4 298.77H494.1M491.4 293H493M491.4 287.24H494.1M491.4 281.48H493M491.4 275.71H494.1M491.4 269.94H493M491.4 264.18H494.1M491.4 258.42H493M491.4 252.65H494.1M491.4 246.88H493M491.4 241.12H494.1M491.4 235.36H493M491.4 229.59H494.1M491.4 223.82H493M491.4 218.06H494.1M491.4 212.3H493M491.4 206.53H494.1M491.4 200.76H493M491.4 195H494.1" stroke="#111" stroke-width="0.8" fill="none"/>
<path d="M491.4 195V197.7M504.32 195V196.6M517.23 195V197.7M530.15 195V196.6M543.07 195V197.7M555.98 195V196.6M568.9 195V197.7M581.82 195V196.6M594.73 195V197.7M607.65 195V196.6M620.57 195V197.7M633.48 195V196.6M646.4 195V197.7M646.4 310.3H643.7M646.4 298.77H644.8M646.4 287.24H643.7M646.4 275.71H644.8M646.4 264.18H643.7M646.4 252.65H644.8M646.4 241.12H643.7M646.4 229.59H644.8M646.4 218.06H643.7M646.4 206.53H644.8M646.4 195H643.7" stroke="#1a1aff" stroke-width="0.8" fill="none"/>
<path d="M491.4 195V310.3H646.4" stroke="#2b2b2b" stroke-width="1" fill="none"/>
<path d="M491.4 195H646.4V310.3" stroke="#1a1aff" stroke-width="1" fill="none"/>
<g font-family='"Liberation Serif", serif' font-weight="bold" font-size="7.0" text-anchor="middle" fill="#111" stroke="#111" class="t">
<text x="491.4" y="317.9">0</text>
<text x="521.21" y="317.9">100</text>
<text x="551.02" y="317.9">200</text>
<text x="580.82" y="317.9">300</text>
<text x="610.63" y="317.9">400</text>
<text x="640.44" y="317.9">500</text>
</g>
<g font-family='"Liberation Sans", sans-serif' font-size="6.6" text-anchor="end" fill="#111" stroke="#111" class="t" letter-spacing="-0.25">
<text x="488.9" y="312.8">0.0005</text>
<text x="488.9" y="301.27">0.0010</text>
<text x="488.9" y="289.74">0.0015</text>
<text x="488.9" y="278.21">0.0020</text>
<text x="488.9" y="266.68">0.0025</text>
<text x="488.9" y="255.15">0.0030</text>
<text x="488.9" y="243.62">0.0035</text>
<text x="488.9" y="232.09">0.0040</text>
<text x="488.9" y="220.56">0.0045</text>
<text x="488.9" y="209.03">0.0050</text>
<text x="488.9" y="197.5">0.0055</text>
</g>
<g font-family='"Liberation Serif", serif' font-weight="bold" font-size="7.0" text-anchor="middle" fill="#1a1aff" stroke="#1a1aff" class="t">
<text x="491.4" y="191.4">2.0</text>
<text x="517.23" y="191.4">2.5</text>
<text x="543.07" y="191.4">3.0</text>
<text x="568.9" y="191.4">3.5</text>
<text x="594.73" y="191.4">4.0</text>
<text x="620.57" y="191.4">4.5</text>
<text x="646.4" y="191.4">5.0</text>
</g>
<g font-family='"Liberation Serif", serif' font-weight="bold" font-size="7.0" text-anchor="start" fill="#1a1aff" stroke="#1a1aff" class="t">
<text x="649" y="312.7">-11</text>
<text x="649" y="289.64">-10</text>
<text x="649" y="266.58">-9</text>
<text x="649" y="243.52">-8</text>
<text x="649" y="220.46">-7</text>
<text x="649" y="197.4">-6</text>
</g>
<text x="566.7" y="327.8" font-family='"Liberation Serif", serif' font-weight="bold" font-size="9.1" text-anchor="middle" fill="#111" stroke="#111" class="u">Temperature&#160;&#160;(<tspan font-size="6.8" dy="-3.4">0</tspan><tspan dy="3.4">C)</tspan></text>
<text x="569.7" y="181.9" font-family='"Liberation Serif", serif' font-weight="bold" font-size="8.55" text-anchor="middle" fill="#1a1aff" stroke="#1a1aff" class="u">ln (T-T<tspan font-size="5.56" dy="3.08">m</tspan><tspan dy="-3.08">)</tspan></text>
<text transform="translate(463.34 251.5) rotate(-90)" font-family='"Liberation Serif", serif' font-weight="bold" font-size="8" text-anchor="middle" fill="#111" stroke="#111" class="u">Inverse Dielectric&#160; Constant&#160; (1/&#949;<tspan font-size="5.2" dy="2.4">r</tspan><tspan dy="-2.4">)</tspan></text>
<text transform="translate(665.7 251.9) rotate(-90)" font-family='"Liberation Serif", serif' font-weight="bold" font-size="8.18" text-anchor="middle" fill="#1a1aff" stroke="#1a1aff" class="u">ln (1/&#949;-1/&#949;<tspan font-size="5.07" dy="3.27">m</tspan><tspan dy="-3.27">)</tspan></text>
<polyline points="499.3,211.5 502.31,211.63 505.31,211.77 508.32,212.67 511.33,213.79 514.33,214.52 517.34,214.93 520.34,215.1 523.35,214.79 526.36,215.36 529.36,216.32 532.37,217.31 535.38,218.3 538.38,219.1 541.39,219.87 544.4,220.84 547.4,221.98 550.41,223.03 553.41,223.93 556.42,224.91 559.43,226.37 562.43,229.07 565.44,228.98 568.45,229.66 571.45,234.17 574.46,235.64 577.47,237.33 580.47,239.12 583.48,239.92 586.49,240.44 589.49,242.9 592.5,246.45 595.5,250.03 598.51,254.29 601.52,259.3 604.52,264.26 607.53,270.42 610.54,282.13 613.54,289.43 616.55,293.57 619.56,295.86 622.56,293.83 625.57,290.44 628.57,285.51 631.58,280.98 634.59,277.73 637.59,272.54 640.6,267.9" stroke="#111" stroke-width="0.6" fill="none"/>
<path d="M497.6 209.8h3.4v3.4h-3.4zM500.61 209.93h3.4v3.4h-3.4zM503.61 210.07h3.4v3.4h-3.4zM506.62 210.97h3.4v3.4h-3.4zM509.63 212.09h3.4v3.4h-3.4zM512.63 212.82h3.4v3.4h-3.4zM515.64 213.23h3.4v3.4h-3.4zM518.64 213.4h3.4v3.4h-3.4zM521.65 213.09h3.4v3.4h-3.4zM524.66 213.66h3.4v3.4h-3.4zM527.66 214.62h3.4v3.4h-3.4zM530.67 215.61h3.4v3.4h-3.4zM533.68 216.6h3.4v3.4h-3.4zM536.68 217.4h3.4v3.4h-3.4zM539.69 218.17h3.4v3.4h-3.4zM542.7 219.14h3.4v3.4h-3.4zM545.7 220.28h3.4v3.4h-3.4zM548.71 221.33h3.4v3.4h-3.4zM551.71 222.23h3.4v3.4h-3.4zM554.72 223.21h3.4v3.4h-3.4zM557.73 224.67h3.4v3.4h-3.4zM560.73 227.37h3.4v3.4h-3.4zM563.74 227.28h3.4v3.4h-3.4zM566.75 227.96h3.4v3.4h-3.4zM569.75 232.47h3.4v3.4h-3.4zM572.76 233.94h3.4v3.4h-3.4zM575.77 235.63h3.4v3.4h-3.4zM578.77 237.42h3.4v3.4h-3.4zM581.78 238.22h3.4v3.4h-3.4zM584.79 238.74h3.4v3.4h-3.4zM587.79 241.2h3.4v3.4h-3.4zM590.8 244.75h3.4v3.4h-3.4zM593.8 248.33h3.4v3.4h-3.4zM596.81 252.59h3.4v3.4h-3.4zM599.82 257.6h3.4v3.4h-3.4zM602.82 262.56h3.4v3.4h-3.4zM605.83 268.72h3.4v3.4h-3.4zM608.84 280.43h3.4v3.4h-3.4zM611.84 287.73h3.4v3.4h-3.4zM614.85 291.87h3.4v3.4h-3.4zM617.86 294.16h3.4v3.4h-3.4zM620.86 292.13h3.4v3.4h-3.4zM623.87 288.74h3.4v3.4h-3.4zM626.87 283.81h3.4v3.4h-3.4zM629.88 279.28h3.4v3.4h-3.4zM632.89 276.03h3.4v3.4h-3.4zM635.89 270.84h3.4v3.4h-3.4zM638.9 266.2h3.4v3.4h-3.4z" fill="#111"/>
<path d="M516 279.5L616.7 205.5" stroke="#1a1aff" stroke-width="0.85"/>
<path d="M525.8 273.8h3.8v3.8h-3.8zM552.4 248.4h3.8v3.8h-3.8zM570.1 231.6h3.8v3.8h-3.8zM583.1 223.3h3.8v3.8h-3.8zM593.4 218.6h3.8v3.8h-3.8zM602.3 213.6h3.8v3.8h-3.8zM609.3 210.8h3.8v3.8h-3.8z" fill="#1a1aff"/>
<ellipse cx="512.2" cy="214.8" rx="2.4" ry="10" stroke="#ff1a1a" stroke-width="0.7" fill="none"/>
<path d="M509.3 220.2H501.2" stroke="#ff1a1a" stroke-width="0.7"/>
<path d="M499.7 220.2L502.9 219L502.9 221.4z" fill="#ff1a1a"/>
<ellipse cx="604.2" cy="219" rx="2.4" ry="10" stroke="#ff1a1a" stroke-width="0.7" fill="none"/>
<path d="M607 223.8H613.5" stroke="#ff1a1a" stroke-width="0.7"/>
<path d="M615 223.8L611.8 222.6L611.8 225z" fill="#ff1a1a"/>
<text x="642" y="210.6" font-family='"Liberation Serif", serif' font-weight="bold" font-size="14.5" text-anchor="end" fill="#111" stroke="#111" class="u">(f)</text>
<text x="498" y="304" font-family='"Liberation Serif", serif' font-weight="bold" font-size="9.55" fill="#1a1aff" stroke="#1a1aff" class="u">&#947; = 1.69</text>
</g>
<g id="pg">
<path d="M34.7 478.3V475.6M49.57 478.3V476.7M64.43 478.3V475.6M79.3 478.3V476.7M94.16 478.3V475.6M109.03 478.3V476.7M123.89 478.3V475.6M138.76 478.3V476.7M153.62 478.3V475.6M168.49 478.3V476.7M183.35 478.3V475.6M34.7 478.3H37.4M34.7 471.11H36.3M34.7 463.93H37.4M34.7 456.74H36.3M34.7 449.55H37.4M34.7 442.36H36.3M34.7 435.18H37.4M34.7 427.99H36.3M34.7 420.8H37.4M34.7 413.61H36.3M34.7 406.43H37.4M34.7 399.24H36.3M34.7 392.05H37.4M34.7 384.86H36.3M34.7 377.68H37.4M34.7 370.49H36.3M34.7 363.3H37.4" stroke="#111" stroke-width="0.8" fill="none"/>
<path d="M34.7 363.3V366M47.58 363.3V364.9M60.47 363.3V366M73.35 363.3V364.9M86.23 363.3V366M99.12 363.3V364.9M112 363.3V366M124.88 363.3V364.9M137.77 363.3V366M150.65 363.3V364.9M163.53 363.3V366M176.42 363.3V364.9M189.3 363.3V366M189.3 478.3H186.6M189.3 468.72H187.7M189.3 459.13H186.6M189.3 449.55H187.7M189.3 439.97H186.6M189.3 430.38H187.7M189.3 420.8H186.6M189.3 411.22H187.7M189.3 401.63H186.6M189.3 392.05H187.7M189.3 382.47H186.6M189.3 372.88H187.7M189.3 363.3H186.6" stroke="#1a1aff" stroke-width="0.8" fill="none"/>
<path d="M34.7 363.3V478.3H189.3" stroke="#2b2b2b" stroke-width="1" fill="none"/>
<path d="M34.7 363.3H189.3V478.3" stroke="#1a1aff" stroke-width="1" fill="none"/>
<g font-family='"Liberation Serif", serif' font-weight="bold" font-size="7.0" text-anchor="middle" fill="#111" stroke="#111" class="t">
<text x="34.7" y="485.9">0</text>
<text x="64.43" y="485.9">100</text>
<text x="94.16" y="485.9">200</text>
<text x="123.89" y="485.9">300</text>
<text x="153.62" y="485.9">400</text>
<text x="183.35" y="485.9">500</text>
</g>
<g font-family='"Liberation Serif", serif' font-weight="bold" font-size="7.0" text-anchor="end" fill="#111" stroke="#111" class="t">
<text x="32.2" y="480.8">0.0010</text>
<text x="32.2" y="466.43">0.0015</text>
<text x="32.2" y="452.05">0.0020</text>
<text x="32.2" y="437.68">0.0025</text>
<text x="32.2" y="423.3">0.0030</text>
<text x="32.2" y="408.93">0.0035</text>
<text x="32.2" y="394.55">0.0040</text>
<text x="32.2" y="380.18">0.0045</text>
<text x="32.2" y="365.8">0.0050</text>
</g>
<g font-family='"Liberation Serif", serif' font-weight="bold" font-size="7.0" text-anchor="middle" fill="#1a1aff" stroke="#1a1aff" class="t">
<text x="34.7" y="359.7">2.0</text>
<text x="60.47" y="359.7">2.5</text>
<text x="86.23" y="359.7">3.0</text>
<text x="112" y="359.7">3.5</text>
<text x="137.77" y="359.7">4.0</text>
<text x="163.53" y="359.7">4.5</text>
<text x="189.3" y="359.7">5.0</text>
</g>
<g font-family='"Liberation Serif", serif' font-weight="bold" font-size="7.0" text-anchor="start" fill="#1a1aff" stroke="#1a1aff" class="t">
<text x="191.9" y="480.7">-12</text>
<text x="191.9" y="461.53">-11</text>
<text x="191.9" y="442.37">-10</text>
<text x="191.9" y="423.2">-9</text>
<text x="191.9" y="404.03">-8</text>
<text x="191.9" y="384.87">-7</text>
<text x="191.9" y="365.7">-6</text>
</g>
<text x="109.4" y="496" font-family='"Liberation Serif", serif' font-weight="bold" font-size="9.1" text-anchor="middle" fill="#111" stroke="#111" class="u">Temperature&#160;&#160;(<tspan font-size="6.8" dy="-3.4">0</tspan><tspan dy="3.4">C)</tspan></text>
<text x="112.3" y="351" font-family='"Liberation Serif", serif' font-weight="bold" font-size="8.4" text-anchor="middle" fill="#1a1aff" stroke="#1a1aff" class="u">ln (T-T<tspan font-size="5.46" dy="3.02">m</tspan><tspan dy="-3.02">)</tspan></text>
<text transform="translate(7.23 419) rotate(-90)" font-family='"Liberation Serif", serif' font-weight="bold" font-size="7.98" text-anchor="middle" fill="#111" stroke="#111" class="u">Inverse Dielectric&#160; Constant&#160; (1/&#949;<tspan font-size="5.19" dy="2.39">r</tspan><tspan dy="-2.39">)</tspan></text>
<text transform="translate(211.02 420) rotate(-90)" font-family='"Liberation Serif", serif' font-weight="bold" font-size="7.94" text-anchor="middle" fill="#1a1aff" stroke="#1a1aff" class="u">ln (1/&#949;-1/&#949;<tspan font-size="4.92" dy="3.18">m</tspan><tspan dy="-3.18">)</tspan></text>
<polyline points="42.5,379.8 45.5,379.25 48.51,378.3 51.51,378.56 54.52,380.06 57.52,381.01 60.53,381.62 63.53,381.17 66.53,380.72 69.54,381.13 72.54,381.59 75.55,382.42 78.55,383.37 81.56,384.27 84.56,385.17 87.56,385.83 90.57,386.44 93.57,387.11 96.58,388.29 99.58,389.47 102.59,390.73 105.59,392.19 108.59,393.64 111.6,395.11 114.6,396.31 117.61,397.29 120.61,398.08 123.61,399.2 126.62,400.58 129.62,402.59 132.63,404.97 135.63,407.42 138.64,411.48 141.64,415.7 144.64,420.11 147.65,425.37 150.65,434.16 153.66,444.51 156.66,457.29 159.67,462.61 162.67,467.16 165.67,469.33 168.68,467.91 171.68,464.74 174.69,460.45 177.69,456.68 180.7,451.69 183.7,445" stroke="#111" stroke-width="0.6" fill="none"/>
<path d="M40.8 378.1h3.4v3.4h-3.4zM43.8 377.55h3.4v3.4h-3.4zM46.81 376.6h3.4v3.4h-3.4zM49.81 376.86h3.4v3.4h-3.4zM52.82 378.36h3.4v3.4h-3.4zM55.82 379.31h3.4v3.4h-3.4zM58.83 379.92h3.4v3.4h-3.4zM61.83 379.47h3.4v3.4h-3.4zM64.83 379.02h3.4v3.4h-3.4zM67.84 379.43h3.4v3.4h-3.4zM70.84 379.89h3.4v3.4h-3.4zM73.85 380.72h3.4v3.4h-3.4zM76.85 381.67h3.4v3.4h-3.4zM79.86 382.57h3.4v3.4h-3.4zM82.86 383.47h3.4v3.4h-3.4zM85.86 384.13h3.4v3.4h-3.4zM88.87 384.74h3.4v3.4h-3.4zM91.87 385.41h3.4v3.4h-3.4zM94.88 386.59h3.4v3.4h-3.4zM97.88 387.77h3.4v3.4h-3.4zM100.89 389.03h3.4v3.4h-3.4zM103.89 390.49h3.4v3.4h-3.4zM106.89 391.94h3.4v3.4h-3.4zM109.9 393.41h3.4v3.4h-3.4zM112.9 394.61h3.4v3.4h-3.4zM115.91 395.59h3.4v3.4h-3.4zM118.91 396.38h3.4v3.4h-3.4zM121.91 397.5h3.4v3.4h-3.4zM124.92 398.88h3.4v3.4h-3.4zM127.92 400.89h3.4v3.4h-3.4zM130.93 403.27h3.4v3.4h-3.4zM133.93 405.72h3.4v3.4h-3.4zM136.94 409.78h3.4v3.4h-3.4zM139.94 414h3.4v3.4h-3.4zM142.94 418.41h3.4v3.4h-3.4zM145.95 423.67h3.4v3.4h-3.4zM148.95 432.46h3.4v3.4h-3.4zM151.96 442.81h3.4v3.4h-3.4zM154.96 455.59h3.4v3.4h-3.4zM157.97 460.91h3.4v3.4h-3.4zM160.97 465.46h3.4v3.4h-3.4zM163.97 467.63h3.4v3.4h-3.4zM166.98 466.21h3.4v3.4h-3.4zM169.98 463.04h3.4v3.4h-3.4zM172.99 458.75h3.4v3.4h-3.4zM175.99 454.98h3.4v3.4h-3.4zM179 449.99h3.4v3.4h-3.4zM182 443.3h3.4v3.4h-3.4z" fill="#111"/>
<path d="M44 446.5L153.5 380.3" stroke="#1a1aff" stroke-width="0.85"/>
<path d="M53.1 438.1h3.8v3.8h-3.8zM86.1 417.8h3.8v3.8h-3.8zM106.4 405.1h3.8v3.8h-3.8zM121.3 396.8h3.8v3.8h-3.8zM132.3 389.6h3.8v3.8h-3.8zM141.9 383.4h3.8v3.8h-3.8z" fill="#1a1aff"/>
<ellipse cx="54.5" cy="382.3" rx="2.4" ry="10" stroke="#ff1a1a" stroke-width="0.7" fill="none"/>
<path d="M52 387.8H43.5" stroke="#ff1a1a" stroke-width="0.7"/>
<path d="M42 387.8L45.2 386.6L45.2 389z" fill="#ff1a1a"/>
<ellipse cx="144" cy="387.8" rx="2.4" ry="10" stroke="#ff1a1a" stroke-width="0.7" fill="none"/>
<path d="M146.8 392.3H153.2" stroke="#ff1a1a" stroke-width="0.7"/>
<path d="M154.7 392.3L151.5 391.1L151.5 393.5z" fill="#ff1a1a"/>
<text x="185.2" y="378.1" font-family='"Liberation Serif", serif' font-weight="bold" font-size="14.5" text-anchor="end" fill="#111" stroke="#111" class="u">(g)</text>
<text x="42.5" y="468.7" font-family='"Liberation Serif", serif' font-weight="bold" font-size="9.55" fill="#1a1aff" stroke="#1a1aff" class="u">&#947; = 1.63</text>
</g>
</svg>
</body></html>
